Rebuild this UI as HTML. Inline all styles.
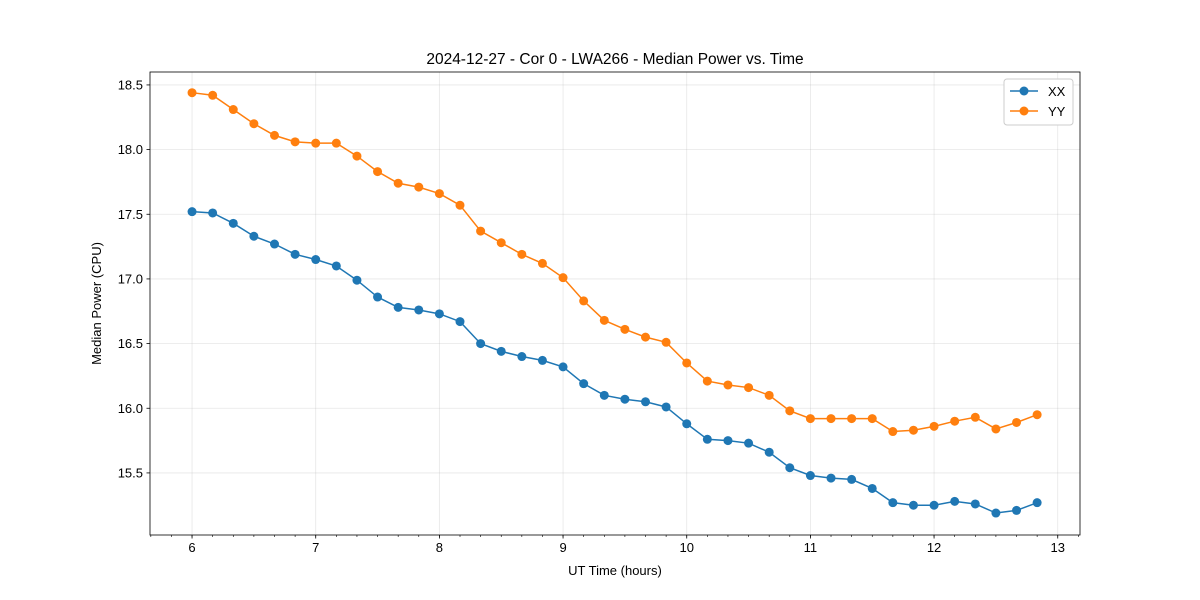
<!DOCTYPE html>
<html><head><meta charset="utf-8"><style>
body{margin:0;background:#fff;}
svg{display:block;font-family:"Liberation Sans","DejaVu Sans",sans-serif;}
</style></head><body>
<svg id="chart" width="1200" height="600"></svg>
<script>
const times = [];
for (let i = 0; i < 42; i++) times.push(6 + i / 6);
const xxValues = [17.52,17.51,17.43,17.33,17.27,17.19,17.15,17.10,16.99,16.86,16.78,16.76,16.73,16.67,16.50,16.44,16.40,16.37,16.32,16.19,16.10,16.07,16.05,16.01,15.88,15.76,15.75,15.73,15.66,15.54,15.48,15.46,15.45,15.38,15.27,15.25,15.25,15.28,15.26,15.19,15.21,15.27];
const yyValues = [18.44,18.42,18.31,18.20,18.11,18.06,18.05,18.05,17.95,17.83,17.74,17.71,17.66,17.57,17.37,17.28,17.19,17.12,17.01,16.83,16.68,16.61,16.55,16.51,16.35,16.21,16.18,16.16,16.10,15.98,15.92,15.92,15.92,15.92,15.82,15.83,15.86,15.90,15.93,15.84,15.89,15.95];
const xTicks = [6,7,8,9,10,11,12,13];
const yTicks = [15.5,16.0,16.5,17.0,17.5,18.0,18.5];

const L=150,R=1080,T=72,B=535;
const xMin=5.66,xMax=13.18,yMin=15.02,yMax=18.6;
const xs=v=>L+(v-xMin)/(xMax-xMin)*(R-L);
const ys=v=>B-(v-yMin)/(yMax-yMin)*(B-T);
const NS="http://www.w3.org/2000/svg";
const svg=document.getElementById('chart');
function mk(tag,attrs,parent){const e=document.createElementNS(NS,tag);for(const k in attrs)e.setAttribute(k,attrs[k]);(parent||svg).appendChild(e);return e;}

// grid
xTicks.forEach(t=>{const g=mk('line',{x1:xs(t),x2:xs(t),y1:T,y2:B,stroke:'#b0b0b0','stroke-width':0.8,'stroke-opacity':0.3});

});
yTicks.forEach(t=>{const g=mk('line',{x1:L,x2:R,y1:ys(t),y2:ys(t),stroke:'#b0b0b0','stroke-width':0.8,'stroke-opacity':0.3});

});

// minor x ticks
for(let v=5.6667;v<13.2;v+=1/6){if(v<xMin||v>xMax)continue;const m=mk('line',{x1:xs(v),x2:xs(v),y1:B,y2:B+2,stroke:'#000','stroke-width':0.6});

}

xTicks.forEach(t=>{mk('line',{x1:xs(t),x2:xs(t),y1:B,y2:B+3.5,stroke:'#000','stroke-width':0.8});
const tx=mk('text',{x:xs(t),y:B+17,'text-anchor':'middle','font-size':13});tx.textContent=t;

});
yTicks.forEach(t=>{mk('line',{x1:L-3.5,x2:L,y1:ys(t),y2:ys(t),stroke:'#000','stroke-width':0.8});
const tx=mk('text',{x:L-7,y:ys(t)+4.5,'text-anchor':'end','font-size':13});tx.textContent=t.toFixed(1);

});

function series(vals,color,name){
  const p=mk('polyline',{points:times.map((t,i)=>xs(t)+','+ys(vals[i])).join(' '),fill:'none',stroke:color,'stroke-width':1.5});
  
  
  times.forEach((t,i)=>{const c=mk('circle',{cx:xs(t),cy:ys(vals[i]),r:4.5,fill:color});
  
  });
}
series(xxValues,'#1f77b4','xx');
series(yyValues,'#ff7f0e','yy');

const frame=mk('rect',{x:L,y:T,width:R-L,height:B-T,fill:'none',stroke:'#000','stroke-width':0.8});



const title=mk('text',{x:(L+R)/2,y:64,'text-anchor':'middle','font-size':15.5});title.textContent='2024-12-27 - Cor 0 - LWA266 - Median Power vs. Time';


const xl=mk('text',{x:(L+R)/2,y:575,'text-anchor':'middle','font-size':13});xl.textContent='UT Time (hours)';


const yl=mk('text',{x:0,y:0,'text-anchor':'middle','font-size':13,transform:`translate(101,${(T+B)/2}) rotate(-90)`});yl.textContent='Median Power (CPU)';



// legend
const lg=mk('g',{});


mk('rect',{x:1004,y:79,width:69,height:46,rx:3,fill:'#fff',stroke:'#ccc','stroke-width':1},lg);
[['XX','#1f77b4',91],['YY','#ff7f0e',111]].forEach(([n,c,y])=>{
  const e=mk('g',{},lg);
  
  
  mk('line',{x1:1010,x2:1038,y1:y,y2:y,stroke:c,'stroke-width':1.5},e);
  mk('circle',{cx:1024,cy:y,r:4.5,fill:c},e);
  const t=mk('text',{x:1048,y:y+5,'font-size':13},e);t.textContent=n;
});
</script>
</body></html>
